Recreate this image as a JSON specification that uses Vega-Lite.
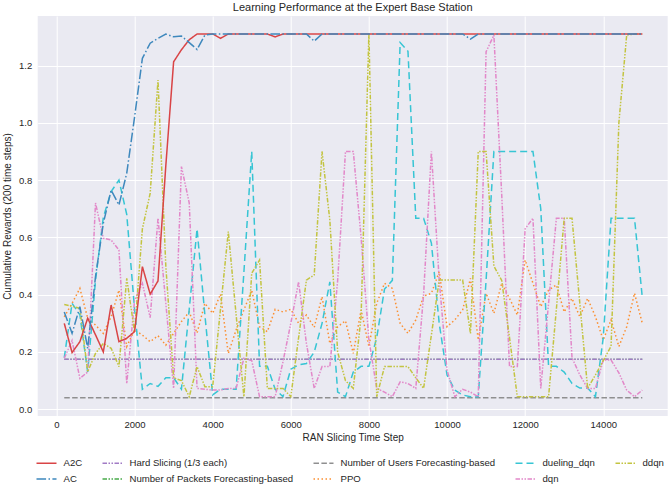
{
  "$schema": "https://vega.github.io/schema/vega-lite/v6.json",
  "width": 630,
  "height": 400,
  "autosize": {"type": "none"},
  "padding": {"left": 37.7, "top": 16, "right": 2.3, "bottom": 75},
  "background": "white",
  "title": {"text": "Learning Performance at the Expert Base Station", "fontSize": 11, "fontWeight": "normal", "font": "Liberation Sans", "color": "#262626", "offset": 3, "anchor": "middle"},
  "config": {
    "view": {"fill": "#eaeaf2", "stroke": null},
    "axis": {"grid": true, "gridColor": "white", "gridWidth": 1, "domain": false, "ticks": false, "labelFont": "Liberation Sans", "titleFont": "Liberation Sans", "labelFontSize": 9.5, "titleFontSize": 10, "labelColor": "#262626", "titleColor": "#262626", "titleFontWeight": "normal"},
    "legend": {"orient": "none", "legendX": -2.2, "legendY": 436, "columns": 5, "direction": "horizontal", "symbolType": "stroke", "symbolSize": 400, "symbolStrokeWidth": 1.5, "labelFontSize": 9.6, "labelOffset": 6, "columnPadding": 17, "rowPadding": -4, "labelFont": "Liberation Sans", "labelColor": "#262626", "labelLimit": 300}
  },
  "data": {"values": [
    {"x":200,"A2C":0.30,"AC":0.34,"Hard Slicing (1/3 each)":0.175,"Number of Packets Forecasting-based":0.175,"Number of Users Forecasting-based":0.04,"PPO":0.323,"dueling_dqn":0.18,"dqn":0.178,"ddqn":0.366},
    {"x":400,"A2C":0.198,"AC":0.265,"Hard Slicing (1/3 each)":0.175,"Number of Packets Forecasting-based":0.175,"Number of Users Forecasting-based":0.04,"PPO":0.37,"dueling_dqn":0.37,"dqn":0.24,"ddqn":0.36},
    {"x":600,"A2C":0.236,"AC":0.358,"Hard Slicing (1/3 each)":0.175,"Number of Packets Forecasting-based":0.175,"Number of Users Forecasting-based":0.04,"PPO":0.422,"dueling_dqn":0.33,"dqn":0.108,"ddqn":0.352},
    {"x":800,"A2C":0.318,"AC":0.213,"Hard Slicing (1/3 each)":0.175,"Number of Packets Forecasting-based":0.175,"Number of Users Forecasting-based":0.04,"PPO":0.318,"dueling_dqn":0.13,"dqn":0.13,"ddqn":0.131},
    {"x":1000,"A2C":0.26,"AC":0.463,"Hard Slicing (1/3 each)":0.175,"Number of Packets Forecasting-based":0.175,"Number of Users Forecasting-based":0.04,"PPO":0.294,"dueling_dqn":0.45,"dqn":0.72,"ddqn":0.195},
    {"x":1200,"A2C":0.20,"AC":0.649,"Hard Slicing (1/3 each)":0.175,"Number of Packets Forecasting-based":0.175,"Number of Users Forecasting-based":0.04,"PPO":0.265,"dueling_dqn":0.67,"dqn":0.597,"ddqn":0.23},
    {"x":1400,"A2C":0.364,"AC":0.765,"Hard Slicing (1/3 each)":0.175,"Number of Packets Forecasting-based":0.175,"Number of Users Forecasting-based":0.04,"PPO":0.323,"dueling_dqn":0.76,"dqn":0.591,"ddqn":0.213},
    {"x":1600,"A2C":0.236,"AC":0.713,"Hard Slicing (1/3 each)":0.175,"Number of Packets Forecasting-based":0.175,"Number of Users Forecasting-based":0.04,"PPO":0.416,"dueling_dqn":0.80,"dqn":0.556,"ddqn":0.149},
    {"x":1800,"A2C":0.248,"AC":0.824,"Hard Slicing (1/3 each)":0.175,"Number of Packets Forecasting-based":0.175,"Number of Users Forecasting-based":0.04,"PPO":0.219,"dueling_dqn":0.68,"dqn":0.09,"ddqn":0.457},
    {"x":2000,"A2C":0.271,"AC":1.02,"Hard Slicing (1/3 each)":0.175,"Number of Packets Forecasting-based":0.175,"Number of Users Forecasting-based":0.04,"PPO":0.277,"dueling_dqn":0.35,"dqn":0.38,"ddqn":0.27},
    {"x":2200,"A2C":0.498,"AC":1.225,"Hard Slicing (1/3 each)":0.175,"Number of Packets Forecasting-based":0.175,"Number of Users Forecasting-based":0.04,"PPO":0.259,"dueling_dqn":0.07,"dqn":0.44,"ddqn":0.63},
    {"x":2400,"A2C":0.402,"AC":1.278,"Hard Slicing (1/3 each)":0.175,"Number of Packets Forecasting-based":0.175,"Number of Users Forecasting-based":0.04,"PPO":0.236,"dueling_dqn":0.09,"dqn":0.32,"ddqn":0.754},
    {"x":2600,"A2C":0.448,"AC":1.295,"Hard Slicing (1/3 each)":0.175,"Number of Packets Forecasting-based":0.175,"Number of Users Forecasting-based":0.04,"PPO":0.257,"dueling_dqn":0.08,"dqn":0.667,"ddqn":1.149},
    {"x":2800,"A2C":0.85,"AC":1.31,"Hard Slicing (1/3 each)":0.175,"Number of Packets Forecasting-based":0.175,"Number of Users Forecasting-based":0.04,"PPO":0.224,"dueling_dqn":0.11,"dqn":0.37,"ddqn":0.50},
    {"x":3000,"A2C":1.213,"AC":1.30,"Hard Slicing (1/3 each)":0.175,"Number of Packets Forecasting-based":0.175,"Number of Users Forecasting-based":0.04,"PPO":0.265,"dueling_dqn":0.11,"dqn":0.073,"ddqn":0.11},
    {"x":3200,"A2C":1.255,"AC":1.303,"Hard Slicing (1/3 each)":0.175,"Number of Packets Forecasting-based":0.175,"Number of Users Forecasting-based":0.04,"PPO":0.306,"dueling_dqn":0.07,"dqn":0.847,"ddqn":0.10},
    {"x":3400,"A2C":1.29,"AC":1.28,"Hard Slicing (1/3 each)":0.175,"Number of Packets Forecasting-based":0.175,"Number of Users Forecasting-based":0.04,"PPO":0.34,"dueling_dqn":0.35,"dqn":0.72,"ddqn":0.044},
    {"x":3600,"A2C":1.31,"AC":1.256,"Hard Slicing (1/3 each)":0.175,"Number of Packets Forecasting-based":0.175,"Number of Users Forecasting-based":0.04,"PPO":0.266,"dueling_dqn":0.63,"dqn":0.073,"ddqn":0.149},
    {"x":3800,"A2C":1.31,"AC":1.306,"Hard Slicing (1/3 each)":0.175,"Number of Packets Forecasting-based":0.175,"Number of Users Forecasting-based":0.04,"PPO":0.37,"dueling_dqn":0.33,"dqn":0.07,"ddqn":0.079},
    {"x":4000,"A2C":1.31,"AC":1.31,"Hard Slicing (1/3 each)":0.175,"Number of Packets Forecasting-based":0.175,"Number of Users Forecasting-based":0.04,"PPO":0.335,"dueling_dqn":0.05,"dqn":0.067,"ddqn":0.079},
    {"x":4200,"A2C":1.295,"AC":1.31,"Hard Slicing (1/3 each)":0.175,"Number of Packets Forecasting-based":0.175,"Number of Users Forecasting-based":0.04,"PPO":0.402,"dueling_dqn":0.07,"dqn":0.067,"ddqn":0.35},
    {"x":4400,"A2C":1.31,"AC":1.31,"Hard Slicing (1/3 each)":0.175,"Number of Packets Forecasting-based":0.175,"Number of Users Forecasting-based":0.04,"PPO":0.195,"dueling_dqn":0.07,"dqn":0.073,"ddqn":0.62},
    {"x":4600,"A2C":1.31,"AC":1.31,"Hard Slicing (1/3 each)":0.175,"Number of Packets Forecasting-based":0.175,"Number of Users Forecasting-based":0.04,"PPO":0.277,"dueling_dqn":0.07,"dqn":0.073,"ddqn":0.33},
    {"x":4800,"A2C":1.31,"AC":1.31,"Hard Slicing (1/3 each)":0.175,"Number of Packets Forecasting-based":0.175,"Number of Users Forecasting-based":0.04,"PPO":0.347,"dueling_dqn":0.48,"dqn":0.178,"ddqn":0.044},
    {"x":5000,"A2C":1.31,"AC":1.31,"Hard Slicing (1/3 each)":0.175,"Number of Packets Forecasting-based":0.175,"Number of Users Forecasting-based":0.04,"PPO":0.416,"dueling_dqn":0.90,"dqn":0.17,"ddqn":0.475},
    {"x":5200,"A2C":1.31,"AC":1.31,"Hard Slicing (1/3 each)":0.175,"Number of Packets Forecasting-based":0.175,"Number of Users Forecasting-based":0.04,"PPO":0.288,"dueling_dqn":0.15,"dqn":0.044,"ddqn":0.521},
    {"x":5400,"A2C":1.31,"AC":1.31,"Hard Slicing (1/3 each)":0.175,"Number of Packets Forecasting-based":0.175,"Number of Users Forecasting-based":0.04,"PPO":0.271,"dueling_dqn":0.15,"dqn":0.044,"ddqn":0.073},
    {"x":5600,"A2C":1.30,"AC":1.31,"Hard Slicing (1/3 each)":0.175,"Number of Packets Forecasting-based":0.175,"Number of Users Forecasting-based":0.04,"PPO":0.349,"dueling_dqn":0.07,"dqn":0.044,"ddqn":0.073},
    {"x":5800,"A2C":1.31,"AC":1.31,"Hard Slicing (1/3 each)":0.175,"Number of Packets Forecasting-based":0.175,"Number of Users Forecasting-based":0.04,"PPO":0.34,"dueling_dqn":0.044,"dqn":0.166,"ddqn":0.073},
    {"x":6000,"A2C":1.31,"AC":1.31,"Hard Slicing (1/3 each)":0.175,"Number of Packets Forecasting-based":0.175,"Number of Users Forecasting-based":0.04,"PPO":0.349,"dueling_dqn":0.14,"dqn":0.30,"ddqn":0.044},
    {"x":6200,"A2C":1.31,"AC":1.31,"Hard Slicing (1/3 each)":0.175,"Number of Packets Forecasting-based":0.175,"Number of Users Forecasting-based":0.04,"PPO":0.30,"dueling_dqn":0.155,"dqn":0.445,"ddqn":0.25},
    {"x":6400,"A2C":1.31,"AC":1.31,"Hard Slicing (1/3 each)":0.175,"Number of Packets Forecasting-based":0.175,"Number of Users Forecasting-based":0.04,"PPO":0.329,"dueling_dqn":0.16,"dqn":0.23,"ddqn":0.451},
    {"x":6600,"A2C":1.31,"AC":1.285,"Hard Slicing (1/3 each)":0.175,"Number of Packets Forecasting-based":0.175,"Number of Users Forecasting-based":0.04,"PPO":0.286,"dueling_dqn":0.20,"dqn":0.073,"ddqn":0.469},
    {"x":6800,"A2C":1.31,"AC":1.31,"Hard Slicing (1/3 each)":0.175,"Number of Packets Forecasting-based":0.175,"Number of Users Forecasting-based":0.04,"PPO":0.393,"dueling_dqn":0.30,"dqn":0.149,"ddqn":0.90},
    {"x":7000,"A2C":1.31,"AC":1.31,"Hard Slicing (1/3 each)":0.175,"Number of Packets Forecasting-based":0.175,"Number of Users Forecasting-based":0.04,"PPO":0.23,"dueling_dqn":0.445,"dqn":0.149,"ddqn":0.66},
    {"x":7200,"A2C":1.31,"AC":1.31,"Hard Slicing (1/3 each)":0.175,"Number of Packets Forecasting-based":0.175,"Number of Users Forecasting-based":0.04,"PPO":0.288,"dueling_dqn":0.06,"dqn":0.45,"ddqn":0.20},
    {"x":7400,"A2C":1.31,"AC":1.31,"Hard Slicing (1/3 each)":0.175,"Number of Packets Forecasting-based":0.175,"Number of Users Forecasting-based":0.04,"PPO":0.309,"dueling_dqn":0.044,"dqn":0.90,"ddqn":0.10},
    {"x":7600,"A2C":1.31,"AC":1.31,"Hard Slicing (1/3 each)":0.175,"Number of Packets Forecasting-based":0.175,"Number of Users Forecasting-based":0.04,"PPO":0.195,"dueling_dqn":0.13,"dqn":0.90,"ddqn":0.073},
    {"x":7800,"A2C":1.31,"AC":1.31,"Hard Slicing (1/3 each)":0.175,"Number of Packets Forecasting-based":0.175,"Number of Users Forecasting-based":0.04,"PPO":0.347,"dueling_dqn":0.15,"dqn":0.60,"ddqn":0.323},
    {"x":8000,"A2C":1.31,"AC":1.31,"Hard Slicing (1/3 each)":0.175,"Number of Packets Forecasting-based":0.175,"Number of Users Forecasting-based":0.04,"PPO":0.219,"dueling_dqn":0.15,"dqn":0.242,"ddqn":1.312},
    {"x":8200,"A2C":1.31,"AC":1.31,"Hard Slicing (1/3 each)":0.175,"Number of Packets Forecasting-based":0.175,"Number of Users Forecasting-based":0.04,"PPO":0.37,"dueling_dqn":0.25,"dqn":0.073,"ddqn":0.044},
    {"x":8400,"A2C":1.31,"AC":1.31,"Hard Slicing (1/3 each)":0.175,"Number of Packets Forecasting-based":0.175,"Number of Users Forecasting-based":0.04,"PPO":0.44,"dueling_dqn":0.42,"dqn":0.06,"ddqn":0.149},
    {"x":8600,"A2C":1.31,"AC":1.31,"Hard Slicing (1/3 each)":0.175,"Number of Packets Forecasting-based":0.175,"Number of Users Forecasting-based":0.04,"PPO":0.422,"dueling_dqn":0.45,"dqn":0.044,"ddqn":0.149},
    {"x":8800,"A2C":1.31,"AC":1.31,"Hard Slicing (1/3 each)":0.175,"Number of Packets Forecasting-based":0.175,"Number of Users Forecasting-based":0.04,"PPO":0.30,"dueling_dqn":1.28,"dqn":0.096,"ddqn":0.149},
    {"x":9000,"A2C":1.31,"AC":1.31,"Hard Slicing (1/3 each)":0.175,"Number of Packets Forecasting-based":0.175,"Number of Users Forecasting-based":0.04,"PPO":0.265,"dueling_dqn":1.25,"dqn":0.09,"ddqn":0.149},
    {"x":9200,"A2C":1.31,"AC":1.31,"Hard Slicing (1/3 each)":0.175,"Number of Packets Forecasting-based":0.175,"Number of Users Forecasting-based":0.04,"PPO":0.312,"dueling_dqn":0.667,"dqn":0.073,"ddqn":0.11},
    {"x":9400,"A2C":1.31,"AC":1.31,"Hard Slicing (1/3 each)":0.175,"Number of Packets Forecasting-based":0.175,"Number of Users Forecasting-based":0.04,"PPO":0.395,"dueling_dqn":0.667,"dqn":0.40,"ddqn":0.073},
    {"x":9600,"A2C":1.31,"AC":1.31,"Hard Slicing (1/3 each)":0.175,"Number of Packets Forecasting-based":0.175,"Number of Users Forecasting-based":0.04,"PPO":0.405,"dueling_dqn":0.58,"dqn":0.90,"ddqn":0.26},
    {"x":9800,"A2C":1.31,"AC":1.31,"Hard Slicing (1/3 each)":0.175,"Number of Packets Forecasting-based":0.175,"Number of Users Forecasting-based":0.04,"PPO":0.48,"dueling_dqn":0.30,"dqn":0.45,"ddqn":0.451},
    {"x":10000,"A2C":1.31,"AC":1.31,"Hard Slicing (1/3 each)":0.175,"Number of Packets Forecasting-based":0.175,"Number of Users Forecasting-based":0.04,"PPO":0.288,"dueling_dqn":0.12,"dqn":0.137,"ddqn":0.451},
    {"x":10200,"A2C":1.31,"AC":1.31,"Hard Slicing (1/3 each)":0.175,"Number of Packets Forecasting-based":0.175,"Number of Users Forecasting-based":0.04,"PPO":0.312,"dueling_dqn":0.067,"dqn":0.044,"ddqn":0.451},
    {"x":10400,"A2C":1.31,"AC":1.31,"Hard Slicing (1/3 each)":0.175,"Number of Packets Forecasting-based":0.175,"Number of Users Forecasting-based":0.04,"PPO":0.347,"dueling_dqn":0.05,"dqn":0.07,"ddqn":0.451},
    {"x":10600,"A2C":1.31,"AC":1.292,"Hard Slicing (1/3 each)":0.175,"Number of Packets Forecasting-based":0.175,"Number of Users Forecasting-based":0.04,"PPO":0.457,"dueling_dqn":0.044,"dqn":0.06,"ddqn":0.265},
    {"x":10800,"A2C":1.31,"AC":1.31,"Hard Slicing (1/3 each)":0.175,"Number of Packets Forecasting-based":0.175,"Number of Users Forecasting-based":0.04,"PPO":0.242,"dueling_dqn":0.044,"dqn":0.044,"ddqn":0.90},
    {"x":11000,"A2C":1.31,"AC":1.31,"Hard Slicing (1/3 each)":0.175,"Number of Packets Forecasting-based":0.175,"Number of Users Forecasting-based":0.04,"PPO":0.405,"dueling_dqn":0.45,"dqn":1.248,"ddqn":0.90},
    {"x":11200,"A2C":1.31,"AC":1.31,"Hard Slicing (1/3 each)":0.175,"Number of Packets Forecasting-based":0.175,"Number of Users Forecasting-based":0.04,"PPO":0.335,"dueling_dqn":0.90,"dqn":1.306,"ddqn":0.50},
    {"x":11400,"A2C":1.31,"AC":1.31,"Hard Slicing (1/3 each)":0.175,"Number of Packets Forecasting-based":0.175,"Number of Users Forecasting-based":0.04,"PPO":0.44,"dueling_dqn":0.90,"dqn":0.75,"ddqn":0.45},
    {"x":11600,"A2C":1.31,"AC":1.31,"Hard Slicing (1/3 each)":0.175,"Number of Packets Forecasting-based":0.175,"Number of Users Forecasting-based":0.04,"PPO":0.387,"dueling_dqn":0.90,"dqn":0.149,"ddqn":0.25},
    {"x":11800,"A2C":1.31,"AC":1.31,"Hard Slicing (1/3 each)":0.175,"Number of Packets Forecasting-based":0.175,"Number of Users Forecasting-based":0.04,"PPO":0.329,"dueling_dqn":0.90,"dqn":0.149,"ddqn":0.044},
    {"x":12000,"A2C":1.31,"AC":1.31,"Hard Slicing (1/3 each)":0.175,"Number of Packets Forecasting-based":0.175,"Number of Users Forecasting-based":0.04,"PPO":0.521,"dueling_dqn":0.90,"dqn":0.63,"ddqn":0.044},
    {"x":12200,"A2C":1.31,"AC":1.31,"Hard Slicing (1/3 each)":0.175,"Number of Packets Forecasting-based":0.175,"Number of Users Forecasting-based":0.04,"PPO":0.44,"dueling_dqn":0.90,"dqn":0.667,"ddqn":0.044},
    {"x":12400,"A2C":1.31,"AC":1.31,"Hard Slicing (1/3 each)":0.175,"Number of Packets Forecasting-based":0.175,"Number of Users Forecasting-based":0.04,"PPO":0.358,"dueling_dqn":0.70,"dqn":0.073,"ddqn":0.044},
    {"x":12600,"A2C":1.31,"AC":1.31,"Hard Slicing (1/3 each)":0.175,"Number of Packets Forecasting-based":0.175,"Number of Users Forecasting-based":0.04,"PPO":0.416,"dueling_dqn":0.15,"dqn":0.37,"ddqn":0.044},
    {"x":12800,"A2C":1.31,"AC":1.31,"Hard Slicing (1/3 each)":0.175,"Number of Packets Forecasting-based":0.175,"Number of Users Forecasting-based":0.04,"PPO":0.434,"dueling_dqn":0.15,"dqn":0.667,"ddqn":0.35},
    {"x":13000,"A2C":1.31,"AC":1.31,"Hard Slicing (1/3 each)":0.175,"Number of Packets Forecasting-based":0.175,"Number of Users Forecasting-based":0.04,"PPO":0.34,"dueling_dqn":0.13,"dqn":0.667,"ddqn":0.667},
    {"x":13200,"A2C":1.31,"AC":1.31,"Hard Slicing (1/3 each)":0.175,"Number of Packets Forecasting-based":0.175,"Number of Users Forecasting-based":0.04,"PPO":0.387,"dueling_dqn":0.09,"dqn":0.18,"ddqn":0.667},
    {"x":13400,"A2C":1.31,"AC":1.31,"Hard Slicing (1/3 each)":0.175,"Number of Packets Forecasting-based":0.175,"Number of Users Forecasting-based":0.04,"PPO":0.323,"dueling_dqn":0.074,"dqn":0.12,"ddqn":0.37},
    {"x":13600,"A2C":1.31,"AC":1.31,"Hard Slicing (1/3 each)":0.175,"Number of Packets Forecasting-based":0.175,"Number of Users Forecasting-based":0.04,"PPO":0.387,"dueling_dqn":0.074,"dqn":0.073,"ddqn":0.073},
    {"x":13800,"A2C":1.31,"AC":1.31,"Hard Slicing (1/3 each)":0.175,"Number of Packets Forecasting-based":0.175,"Number of Users Forecasting-based":0.04,"PPO":0.323,"dueling_dqn":0.044,"dqn":0.073,"ddqn":0.12},
    {"x":14000,"A2C":1.31,"AC":1.31,"Hard Slicing (1/3 each)":0.175,"Number of Packets Forecasting-based":0.175,"Number of Users Forecasting-based":0.04,"PPO":0.242,"dueling_dqn":0.25,"dqn":0.172,"ddqn":0.17},
    {"x":14200,"A2C":1.31,"AC":1.31,"Hard Slicing (1/3 each)":0.175,"Number of Packets Forecasting-based":0.175,"Number of Users Forecasting-based":0.04,"PPO":0.312,"dueling_dqn":0.667,"dqn":0.172,"ddqn":0.22},
    {"x":14400,"A2C":1.31,"AC":1.31,"Hard Slicing (1/3 each)":0.175,"Number of Packets Forecasting-based":0.175,"Number of Users Forecasting-based":0.04,"PPO":0.219,"dueling_dqn":0.667,"dqn":0.127,"ddqn":1.0},
    {"x":14600,"A2C":1.31,"AC":1.31,"Hard Slicing (1/3 each)":0.175,"Number of Packets Forecasting-based":0.175,"Number of Users Forecasting-based":0.04,"PPO":0.288,"dueling_dqn":0.667,"dqn":0.067,"ddqn":1.306},
    {"x":14800,"A2C":1.31,"AC":1.31,"Hard Slicing (1/3 each)":0.175,"Number of Packets Forecasting-based":0.175,"Number of Users Forecasting-based":0.04,"PPO":0.405,"dueling_dqn":0.667,"dqn":0.044,"ddqn":1.31},
    {"x":15000,"A2C":1.31,"AC":1.31,"Hard Slicing (1/3 each)":0.175,"Number of Packets Forecasting-based":0.175,"Number of Users Forecasting-based":0.04,"PPO":0.30,"dueling_dqn":0.39,"dqn":0.067,"ddqn":1.31}
  ]},
  "encoding": {
    "x": {"field": "x", "type": "quantitative", "scale": {"domain": [-480, 15650], "nice": false, "zero": false}, "axis": {"values": [0, 2000, 4000, 6000, 8000, 10000, 12000, 14000], "format": "d", "title": "RAN Slicing Time Step", "labelPadding": 3, "titlePadding": 4}},
    "y": {"field": "value", "type": "quantitative", "scale": {"domain": [-0.0234, 1.3728], "nice": false, "zero": false}, "axis": {"values": [0, 0.2, 0.4, 0.6, 0.8, 1.0, 1.2], "format": ".1f", "title": "Cumulative Rewards (200 time steps)", "labelPadding": 6, "titlePadding": 6}},
    "color": {"field": "series", "type": "nominal", "title": null,
      "scale": {"domain": ["A2C", "Hard Slicing (1/3 each)", "Number of Users Forecasting-based", "dueling_dqn", "ddqn", "AC", "Number of Packets Forecasting-based", "PPO", "dqn"],
                "range": ["#d94446", "#a17bc5", "#8f8f90", "#37c5d4", "#c3c441", "#3e88bd", "#48ab4a", "#fc8f30", "#e288c9"]}},
    "strokeDash": {"field": "series", "type": "nominal", "title": null,
      "scale": {"domain": ["A2C", "Hard Slicing (1/3 each)", "Number of Users Forecasting-based", "dueling_dqn", "ddqn", "AC", "Number of Packets Forecasting-based", "PPO", "dqn"],
                "range": [[1, 0], [4.5, 1.5, 1.5, 1.5, 1.5, 1.5], [5.5, 2.4], [7, 4], [4.5, 1.5, 1.5, 1.5, 1.5, 1.5], [9.6, 2.4, 1.5, 2.4], [4.5, 1.5, 1.5, 1.5, 1.5, 1.5], [1.5, 2.5], [4.5, 1.5, 1.5, 1.5, 1.5, 1.5]]}}
  },
  "layer": [
    {
      "transform": [{"fold": ["Number of Packets Forecasting-based"], "as": ["series", "value"]}],
      "mark": {"type": "line", "strokeWidth": 0.8}
    },
    {
      "transform": [{"fold": ["Number of Users Forecasting-based", "Hard Slicing (1/3 each)", "PPO", "dueling_dqn", "dqn", "ddqn", "A2C", "AC"], "as": ["series", "value"]}],
      "mark": {"type": "line", "strokeWidth": 1.5}
    },
    {
      "data": {"values": [{"label": "1e6"}]},
      "mark": {"type": "text", "align": "left", "baseline": "middle", "clip": false, "fontSize": 9.5, "font": "Liberation Sans", "color": "#262626"},
      "encoding": {
        "x": {"datum": -1250, "type": "quantitative"},
        "y": {"datum": 1.40, "type": "quantitative"},
        "text": {"field": "label"},
        "color": null,
        "strokeDash": null
      }
    }
  ]
}
